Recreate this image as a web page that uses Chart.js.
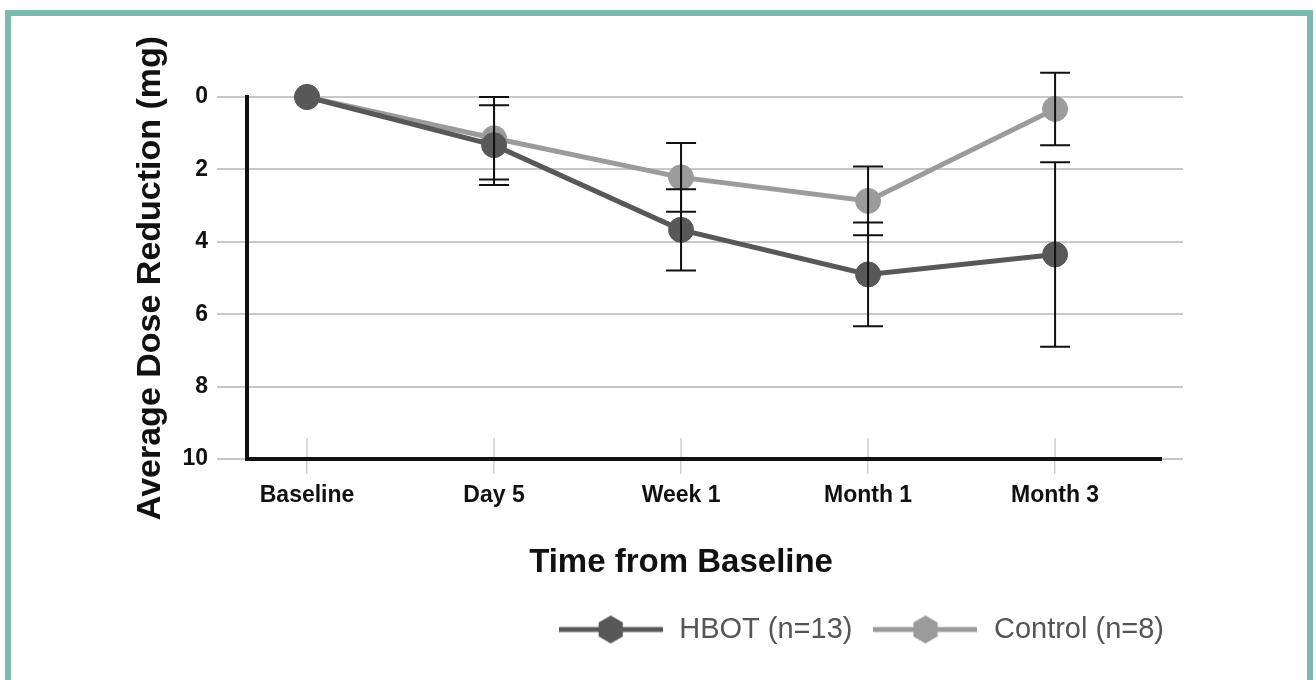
<!DOCTYPE html>
<html>
<head>
<meta charset="utf-8">
<script src="https://cdn.jsdelivr.net/npm/chart.js@4.4.1/dist/chart.umd.min.js"></script>
<style>
  html, body { margin: 0; padding: 0; background: #ffffff; width: 1316px; height: 680px; overflow: hidden; }
  #frame { position: absolute; left: 5px; top: 10px; width: 1296px; height: 720px; border: 6px solid #7db9af; }
  #c { position: absolute; left: 0; top: 0; }
</style>
</head>
<body>
<div id="frame"></div>
<canvas id="c" width="1316" height="680"></canvas>
<script>
// ---- data ----
const categories = ['Baseline', 'Day 5', 'Week 1', 'Month 1', 'Month 3'];
const hbotMean = [0, 1.33, 3.67, 4.90, 4.35];
const hbotErr = [0, 1.10, 1.12, 1.43, 2.55];
const controlMean = [0, 1.14, 2.22, 2.87, 0.33];
const controlErr = [0, 1.14, 0.95, 0.95, 1.00];
const yTicks = [0, 2, 4, 6, 8, 10];
const seriesLabels = ['HBOT (n=13)', 'Control (n=8)'];
const xTitle = 'Time from Baseline';
const yTitle = 'Average Dose Reduction (mg)';

const HBOT_COLOR = '#585858';
const CTRL_COLOR = '#9b9b9b';
const FONT = "'Liberation Sans', Arial, Helvetica, sans-serif";
Chart.defaults.font.family = FONT;

function legendImage(color) {
  const cv = document.createElement('canvas');
  cv.width = 104; cv.height = 30;
  const g = cv.getContext('2d');
  g.strokeStyle = color; g.lineWidth = 5;
  g.beginPath(); g.moveTo(0, 15); g.lineTo(104, 15); g.stroke();
  g.fillStyle = color;
  g.beginPath();
  for (let k = 0; k < 6; k++) {
    const a = -Math.PI / 2 + k * Math.PI / 3;
    const px = 52 + 14 * Math.cos(a), py = 15 + 14 * Math.sin(a);
    if (k === 0) g.moveTo(px, py); else g.lineTo(px, py);
  }
  g.closePath(); g.fill();
  return cv;
}
const legendImgs = [legendImage(HBOT_COLOR), legendImage(CTRL_COLOR)];

const toPoints = arr => arr.map((v, i) => ({ x: i, y: v }));

const errorBars = {
  id: 'errorBars',
  afterDatasetsDraw(chart) {
    const { ctx, scales: { x, y } } = chart;
    const sets = [[hbotMean, hbotErr], [controlMean, controlErr]];
    ctx.save();
    ctx.strokeStyle = '#111';
    ctx.lineWidth = 2;
    sets.forEach(([m, e]) => {
      m.forEach((v, i) => {
        if (!e[i]) return;
        const px = x.getPixelForValue(i);
        const y1 = y.getPixelForValue(v - e[i]);
        const y2 = y.getPixelForValue(v + e[i]);
        ctx.beginPath();
        ctx.moveTo(px, y1); ctx.lineTo(px, y2);
        ctx.moveTo(px - 15, y1); ctx.lineTo(px + 15, y1);
        ctx.moveTo(px - 15, y2); ctx.lineTo(px + 15, y2);
        ctx.stroke();
      });
    });
    ctx.restore();
  }
};

const axisExtras = {
  id: 'axisExtras',
  beforeDatasetsDraw(chart) {
    const { ctx, chartArea, scales: { x } } = chart;
    ctx.save();
    // upper part of x tick marks
    ctx.strokeStyle = '#cfcfcf';
    ctx.lineWidth = 1.5;
    x.ticks.forEach(t => {
      const px = x.getPixelForValue(t.value);
      ctx.beginPath(); ctx.moveTo(px, chartArea.bottom - 21); ctx.lineTo(px, chartArea.bottom); ctx.stroke();
    });
    // x axis line
    ctx.strokeStyle = '#111';
    ctx.lineWidth = 4;
    ctx.beginPath();
    ctx.moveTo(chartArea.left - 2, chartArea.bottom);
    ctx.lineTo(chartArea.right - 21, chartArea.bottom);
    ctx.stroke();
    ctx.restore();
  },
  afterDraw(chart) {
    const { ctx, scales: { x } } = chart;
    ctx.save();
    ctx.font = 'bold 33px ' + FONT;
    ctx.fillStyle = '#111';
    ctx.textAlign = 'center';
    ctx.textBaseline = 'middle';
    ctx.fillText(xTitle, x.getPixelForValue((categories.length - 1) / 2), 563);
    ctx.restore();
  }
};

new Chart(document.getElementById('c'), {
  type: 'line',
  data: {
    datasets: [
      {
        label: seriesLabels[0], data: toPoints(hbotMean),
        borderColor: HBOT_COLOR, backgroundColor: HBOT_COLOR,
        borderWidth: 5, pointRadius: 12.5, pointBackgroundColor: HBOT_COLOR,
        pointBorderColor: HBOT_COLOR, pointBorderWidth: 1, tension: 0, clip: false
      },
      {
        label: seriesLabels[1], data: toPoints(controlMean),
        borderColor: CTRL_COLOR, backgroundColor: CTRL_COLOR,
        borderWidth: 5, pointRadius: 12.5, pointBackgroundColor: CTRL_COLOR,
        pointBorderColor: CTRL_COLOR, pointBorderWidth: 1, tension: 0, clip: false
      }
    ]
  },
  options: {
    responsive: false,
    animation: false,
    devicePixelRatio: 1,
    layout: { padding: { left: 0, top: 97, right: 133, bottom: 26 } },
    plugins: {
      tooltip: { enabled: false },
      legend: {
        position: 'bottom',
        align: 'end',
        maxHeight: 64,
        labels: {
          usePointStyle: true,
          pointStyleWidth: 108,
          padding: 19,
          color: '#555',
          font: { size: 29, family: FONT },
          generateLabels: (chart) => chart.data.datasets.map((ds, i) => ({
            text: ds.label, pointStyle: legendImgs[i], fillStyle: ds.borderColor,
            strokeStyle: ds.borderColor, lineWidth: 0, fontColor: '#555',
            hidden: false, datasetIndex: i
          }))
        }
      }
    },
    scales: {
      x: {
        type: 'linear',
        min: -0.321, max: 4.684,
        afterBuildTicks: (scale) => { scale.ticks = categories.map((c, i) => ({ value: i })); },
        afterFit: (scale) => { scale.height = 137; },
        grid: { drawOnChartArea: false, drawTicks: true, tickLength: 15, color: '#cfcfcf', lineWidth: 1.5 },
        border: { display: false },
        ticks: {
          autoSkip: false, maxRotation: 0, padding: 8,
          color: '#111', font: { size: 23, weight: 'bold' },
          callback: (v) => categories[v] !== undefined ? categories[v] : ''
        }
      },
      y: {
        type: 'linear',
        min: 0, max: 10, reverse: true,
        afterBuildTicks: (scale) => { scale.ticks = yTicks.map(v => ({ value: v })); },
        afterFit: (scale) => { scale.width = 247; },
        grid: { color: '#c8c8c8', lineWidth: 2, tickLength: 30 },
        border: { display: true, color: '#111', width: 4 },
        ticks: { padding: 9, color: '#111', font: { size: 23, weight: 'bold' } },
        title: {
          display: true, text: yTitle, color: '#111',
          font: { size: 34, weight: 'bold' }, padding: { top: 130, bottom: 0 }
        }
      }
    }
  },
  plugins: [axisExtras, errorBars]
});
</script>
</body>
</html>
